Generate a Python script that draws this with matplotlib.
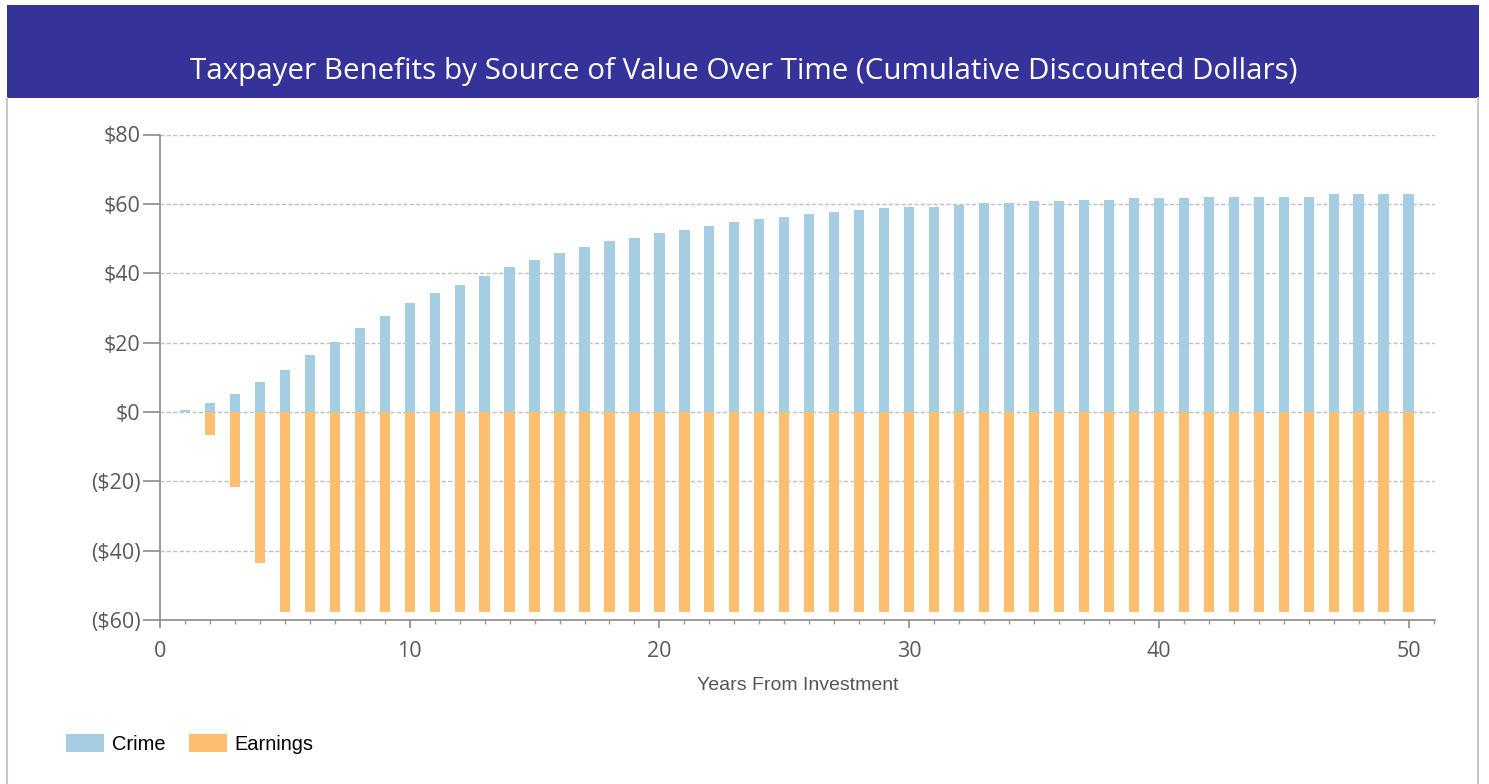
import matplotlib.pyplot as plt
from matplotlib.patches import Rectangle
from matplotlib.lines import Line2D
from matplotlib.ticker import MultipleLocator, FuncFormatter

# =====================
# DATA
# =====================
years = list(range(1, 51))
crime = [0.7, 2.7, 5.2, 8.7, 12.2, 16.3, 20.2, 24.2, 27.7, 31.3,
         34.2, 36.7, 39.2, 41.7, 43.7, 45.7, 47.7, 49.2, 50.1, 51.7,
         52.6, 53.7, 54.7, 55.7, 56.2, 57.2, 57.7, 58.2, 58.7, 59.1,
         59.1, 59.7, 60.2, 60.2, 60.7, 60.7, 61.2, 61.2, 61.6, 61.6,
         61.6, 62.1, 62.1, 62.1, 62.1, 62.1, 62.7, 62.7, 62.7, 62.7]
earnings = [0.0, -6.6, -21.6, -43.7] + [-57.6] * 46

series_names = ["Crime", "Earnings"]
series_colors = ["#a6cee3", "#fdbf6f"]

TITLE = "Taxpayer Benefits by Source of Value Over Time (Cumulative Discounted Dollars)"
XLABEL = "Years From Investment"

W, H = 1489, 784


def money(v, pos=None):
    if v < 0:
        return "(${:.0f})".format(-v)
    return "${:.0f}".format(v)


fig = plt.figure(figsize=(W / 100, H / 100), dpi=100)
fig.patch.set_facecolor("white")

# banner + frame
fig.patches.append(Rectangle((7 / W, 1 - 98 / H), (1479 - 7) / W, 93 / H,
                             transform=fig.transFigure, facecolor="#353399",
                             edgecolor="none", zorder=0))
for xb in (7.5, 1477.5):
    fig.lines.append(Line2D([xb / W, xb / W], [0, 1 - 98 / H], transform=fig.transFigure,
                            color="#c8c8c8", lw=1.5))
fig.text(744 / W, 1 - 71 / H, TITLE, color="white", fontsize=21.3,
         family="Open Sans", ha="center", va="center")

ax = fig.add_axes([160 / W, 1 - 620 / H, (1435 - 160) / W, (620 - 134.5) / H])

ax.bar(years, crime, width=0.41, color=series_colors[0], label=series_names[0], zorder=3)
ax.bar(years, earnings, width=0.41, color=series_colors[1], label=series_names[1], zorder=3)

ax.set_xlim(0, 51.06)
ax.set_ylim(-60, 80)
ax.yaxis.set_major_locator(MultipleLocator(20))
ax.yaxis.set_major_formatter(FuncFormatter(money))
ax.xaxis.set_major_locator(MultipleLocator(10))
ax.xaxis.set_minor_locator(MultipleLocator(1))

ax.grid(axis="y", color="#c0c0c0", linestyle=(0, (3, 1.6)), lw=1, zorder=1)
for s in ("top", "right"):
    ax.spines[s].set_visible(False)
for s in ("left", "bottom"):
    ax.spines[s].set_color("#8a8a8a")
    ax.spines[s].set_linewidth(1.2)

ax.tick_params(axis="y", which="major", length=12, width=1.2, color="#8a8a8a",
               labelsize=15.5, labelcolor="#5a5a5a", pad=2)
ax.tick_params(axis="x", which="major", length=6, width=1.2, color="#8a8a8a",
               labelsize=15.5, labelcolor="#5a5a5a", pad=9)
ax.tick_params(axis="x", which="minor", length=3, width=1, color="#9a9a9a")
for lab in ax.get_xticklabels() + ax.get_yticklabels():
    lab.set_family("Open Sans")

ax.set_xlabel(XLABEL, fontsize=14, color="#555555", family="Liberation Sans", labelpad=11)

fig.legend(loc="center left", bbox_to_anchor=(48 / W, 1 - 744 / H), ncol=2, frameon=False,
           handlelength=1.9, handleheight=1.0, handletextpad=0.4, columnspacing=1.15,
           prop={"family": "Liberation Sans", "size": 14.4})

fig.savefig("out.png", dpi=100)
